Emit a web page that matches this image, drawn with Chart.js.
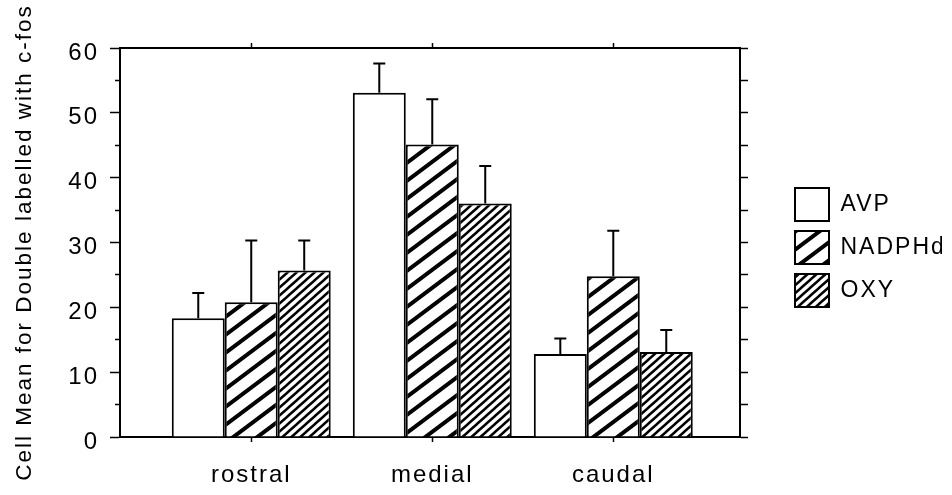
<!DOCTYPE html>
<html>
<head>
<meta charset="utf-8">
<script src="https://cdn.jsdelivr.net/npm/chart.js@4.4.1/dist/chart.umd.min.js"></script>
<style>
  body { margin: 0; background: #fff; }
  canvas { display: block; }
</style>
</head>
<body>
<canvas id="chart" width="952" height="495"></canvas>
<script>
const categories = ["rostral", "medial", "caudal"];
const seriesNames = ["AVP", "NADPHd", "OXY"];

const avpMeans = [18.3, 53.1, 12.8];
const nadphdMeans = [20.8, 45.1, 24.8];
const oxyMeans = [25.7, 36.0, 13.1];

const avpErrors = [3.9, 4.5, 2.4];
const nadphdErrors = [9.5, 7.0, 7.0];
const oxyErrors = [4.6, 5.8, 3.4];

const yTicks = [0, 10, 20, 30, 40, 50, 60];

const canvas = document.getElementById("chart");
const ctx = canvas.getContext("2d");

// diagonal hatch fill, white behind black lines
function makeHatch(w, h, lineWidth) {
  const c = document.createElement("canvas");
  c.width = w;
  c.height = h;
  const g = c.getContext("2d");
  g.fillStyle = "#fff";
  g.fillRect(0, 0, w, h);
  g.strokeStyle = "#000";
  g.lineWidth = lineWidth;
  for (let k = -1; k <= 1; k++) {
    g.beginPath();
    g.moveTo(-w, 2 * h + k * h);
    g.lineTo(2 * w, -h + k * h);
    g.stroke();
  }
  return ctx.createPattern(c, "repeat");
}

const wideHatch = makeHatch(24, 18, 4);
const fineHatch = makeHatch(9, 8, 2.5);

function toPoints(values) {
  return values.map((v, i) => ({ x: i, y: v }));
}

const errorBars = {
  id: "errorBars",
  afterDatasetsDraw(chart) {
    const c = chart.ctx;
    const yScale = chart.scales.y;
    c.save();
    c.strokeStyle = "#000";
    c.lineWidth = 2;
    chart.data.datasets.forEach((ds, i) => {
      const meta = chart.getDatasetMeta(i);
      meta.data.forEach((bar, j) => {
        const top = yScale.getPixelForValue(ds.data[j].y + ds.errors[j]);
        c.beginPath();
        c.moveTo(bar.x, bar.y);
        c.lineTo(bar.x, top);
        c.moveTo(bar.x - 6, top);
        c.lineTo(bar.x + 6, top);
        c.stroke();
      });
    });
    c.restore();
  },
};

// wide letter spacing of the scanned text, also while measuring
const spacing = {
  id: "spacing",
  beforeUpdate(chart) {
    chart.ctx.letterSpacing = "2px";
  },
  beforeDraw(chart) {
    chart.ctx.letterSpacing = "2px";
  },
};

const font = { family: "'Liberation Sans', Arial, sans-serif", size: 24 };
const xMin = -0.725;
const xMax = 2.7;
const categoryTicks = (scale) => {
  scale.ticks = categories.map((c, i) => ({ value: i }));
};

new Chart(ctx, {
  type: "bar",
  data: {
    datasets: [
      {
        label: seriesNames[0],
        data: toPoints(avpMeans),
        errors: avpErrors,
        backgroundColor: "#fff",
      },
      {
        label: seriesNames[1],
        data: toPoints(nadphdMeans),
        errors: nadphdErrors,
        backgroundColor: wideHatch,
      },
      {
        label: seriesNames[2],
        data: toPoints(oxyMeans),
        errors: oxyErrors,
        backgroundColor: fineHatch,
      },
    ].map((d) => ({
      ...d,
      borderColor: "#000",
      borderWidth: 2,
      barPercentage: 1,
      categoryPercentage: 0.878,
    })),
  },
  options: {
    responsive: false,
    animation: false,
    layout: { padding: { left: 0, right: 10, top: 0, bottom: 0 } },
    plugins: {
      tooltip: { enabled: false },
      legend: {
        position: "right",
        align: "center",
        labels: {
          boxWidth: 34,
          boxHeight: 33,
          padding: 10,
          color: "#000",
          font: { family: font.family, size: 23 },
        },
      },
    },
    scales: {
      x: {
        type: "linear",
        position: "bottom",
        offset: false,
        min: xMin,
        max: xMax,
        afterBuildTicks: categoryTicks,
        afterFit: (scale) => { scale.height = 58; },
        grid: { offset: false, drawOnChartArea: false, tickLength: 5, color: "#000", tickWidth: 1.5 },
        border: { color: "#000", width: 2 },
        ticks: {
          color: "#000",
          font: font,
          padding: 19,
          maxRotation: 0,
          callback: (v) => categories[v],
        },
      },
      x2: {
        type: "linear",
        position: "top",
        offset: false,
        min: xMin,
        max: xMax,
        afterBuildTicks: categoryTicks,
        afterFit: (scale) => { scale.height = 48; },
        grid: { offset: false, drawOnChartArea: false, tickLength: 5, color: "#000", tickWidth: 1.5 },
        border: { color: "#000", width: 2 },
        ticks: { display: false },
      },
      y: {
        position: "left",
        min: 0,
        max: 60,
        afterFit: (scale) => { scale.width = 120; },
        grid: {
          drawOnChartArea: false,
          tickLength: 10,
          color: "#000",
          tickWidth: 1.5,
          tickBorderDash: (c) => (yTicks.includes(c.tick.value) ? [] : [0, 5, 5]),
        },
        border: { color: "#000", width: 2 },
        ticks: {
          stepSize: 5,
          color: "#000",
          font: font,
          padding: 11,
          labelOffset: 5,
          callback: (v) => (yTicks.includes(v) ? v : ""),
        },
        title: {
          display: true,
          text: "Cell Mean for Double labelled with c-fos",
          color: "#000",
          font: { family: font.family, size: 22.5 },
          padding: { top: 11, bottom: 0 },
        },
      },
      y2: {
        position: "right",
        min: 0,
        max: 60,
        afterFit: (scale) => { scale.width = 45; },
        grid: { drawOnChartArea: false, tickLength: 8, color: "#000", tickWidth: 1.5 },
        border: { color: "#000", width: 2 },
        ticks: { stepSize: 5, display: false },
      },
    },
  },
  plugins: [errorBars, spacing],
});
</script>
</body>
</html>
